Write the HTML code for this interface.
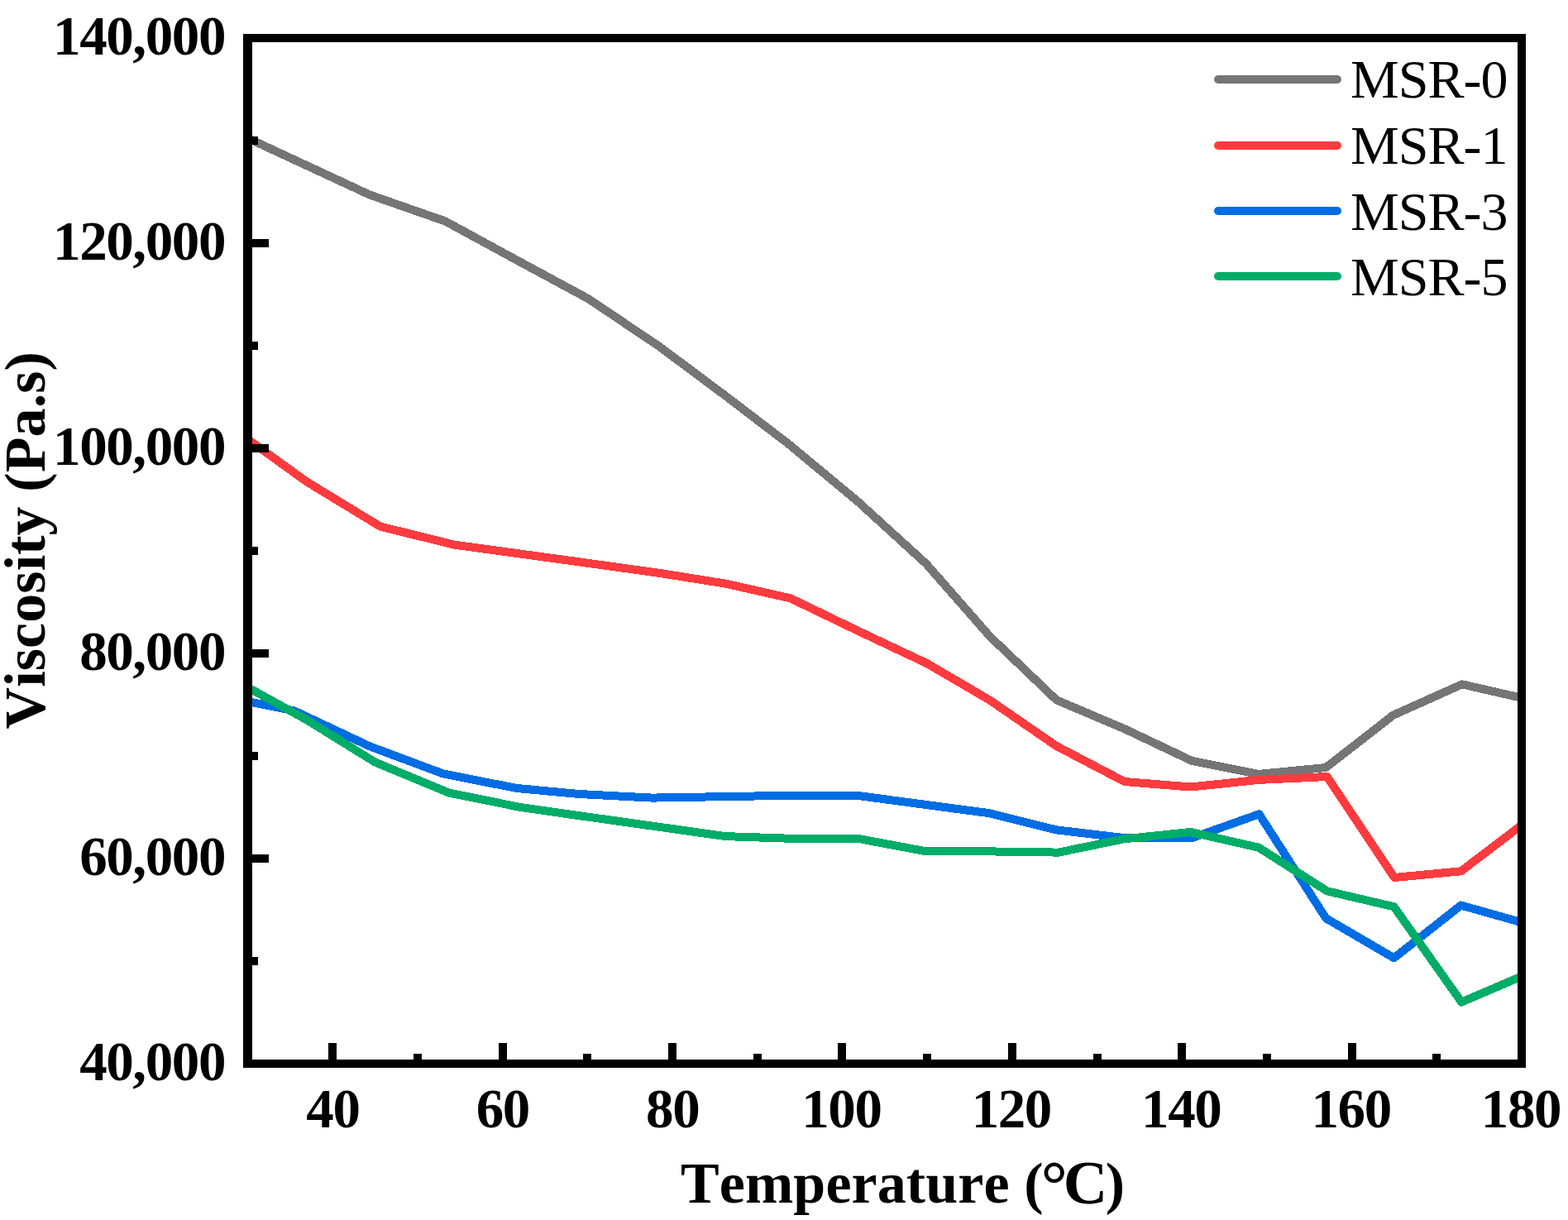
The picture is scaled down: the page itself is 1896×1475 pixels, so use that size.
<!DOCTYPE html>
<html lang="en"><head><meta charset="utf-8"><title>Viscosity vs Temperature</title>
<style>
html,body{margin:0;padding:0;background:#fff;}
body{width:1896px;height:1475px;overflow:hidden;}
svg{display:block;}
text{font-family:"Liberation Serif","Noto Serif CJK SC",serif;fill:#000;}
.tk{font-weight:bold;font-size:67px;letter-spacing:-1.4px;}
.ttl{font-weight:bold;font-size:70px;letter-spacing:0.1px;font-kerning:none;}
.lg{font-weight:normal;font-size:66px;letter-spacing:-1px;}
.deg{font-weight:bold;font-size:80px;}
.cc{font-weight:bold;font-size:74px;}
</style></head><body>
<svg width="1896" height="1475" viewBox="0 0 1896 1475">
<rect x="0" y="0" width="1896" height="1475" fill="#ffffff"/>
<defs><clipPath id="plot"><rect x="299.5" y="46" width="1540.5" height="1240"/></clipPath></defs>
<g clip-path="url(#plot)" shape-rendering="crispEdges">
<polyline fill="none" stroke="#757575" stroke-width="10" stroke-linejoin="round" stroke-linecap="butt" points="299.5,167.0 447.0,235.5 538.5,267.5 624.0,314.0 711.0,361.0 796.0,418.0 877.2,478.5 953.2,536.5 1038.0,607.0 1120.3,682.0 1196.5,769.0 1277.5,846.3 1361.0,881.8 1441.5,920.0 1521.5,936.0 1603.3,928.0 1684.4,864.8 1767.9,827.3 1840.0,843.8"/>
<polyline fill="none" stroke="#FF3B3F" stroke-width="10" stroke-linejoin="round" stroke-linecap="butt" points="299.5,531.0 371.0,582.5 459.7,636.5 548.4,658.5 700.0,679.3 796.2,692.7 877.2,705.6 955.7,723.3 1038.0,763.0 1120.3,801.8 1196.5,846.3 1277.5,902.0 1359.7,945.0 1439.7,951.5 1522.0,942.9 1604.6,939.0 1686.0,1061.0 1766.6,1053.3 1840.0,997.5"/>
<polyline fill="none" stroke="#006DE4" stroke-width="10" stroke-linejoin="round" stroke-linecap="butt" points="299.5,848.0 356.0,859.5 447.0,902.3 535.7,935.4 624.3,952.9 700.0,960.0 788.6,964.6 953.2,961.8 1041.8,962.5 1120.0,973.0 1196.5,983.2 1277.5,1003.4 1358.5,1013.0 1441.5,1013.0 1522.5,984.3 1603.3,1110.2 1685.6,1158.2 1766.6,1094.5 1840.0,1115.2"/>
<polyline fill="none" stroke="#00AD68" stroke-width="10" stroke-linejoin="round" stroke-linecap="butt" points="299.5,831.0 371.2,870.5 453.5,921.5 543.3,958.7 629.4,976.0 700.0,986.1 877.2,1011.1 953.2,1013.7 1036.7,1013.7 1116.0,1028.6 1196.5,1029.4 1280.0,1030.6 1358.5,1014.4 1439.7,1006.0 1522.0,1024.7 1604.6,1077.3 1685.6,1096.3 1767.2,1211.5 1840.0,1180.4"/>
</g>
<g fill="#000" shape-rendering="crispEdges">
<rect x="397" y="1261" width="10" height="22"/>
<rect x="603" y="1261" width="10" height="22"/>
<rect x="808" y="1261" width="10" height="22"/>
<rect x="1013" y="1261" width="10" height="22"/>
<rect x="1219" y="1261" width="10" height="22"/>
<rect x="1424" y="1261" width="10" height="22"/>
<rect x="1630" y="1261" width="10" height="22"/>
<rect x="1835" y="1261" width="10" height="22"/>
<rect x="500" y="1274" width="10" height="9"/>
<rect x="705" y="1274" width="10" height="9"/>
<rect x="911" y="1274" width="10" height="9"/>
<rect x="1116" y="1274" width="10" height="9"/>
<rect x="1322" y="1274" width="10" height="9"/>
<rect x="1527" y="1274" width="10" height="9"/>
<rect x="1732" y="1274" width="10" height="9"/>
<rect x="303" y="1033" width="22" height="10"/>
<rect x="303" y="785" width="22" height="10"/>
<rect x="303" y="537" width="22" height="10"/>
<rect x="303" y="289" width="22" height="10"/>
<rect x="303" y="1157" width="9" height="10"/>
<rect x="303" y="909" width="9" height="10"/>
<rect x="303" y="661" width="9" height="10"/>
<rect x="303" y="413" width="9" height="10"/>
<rect x="303" y="165" width="9" height="10"/>
<rect x="294" y="41" width="11" height="1250"/>
<rect x="294" y="41" width="1551" height="10"/>
<rect x="1835" y="41" width="10" height="1250"/>
<rect x="294" y="1281" width="1551" height="10"/>
</g>
<g class="tk" text-anchor="middle">
<text x="402.4" y="1363.3">40</text>
<text x="607.8" y="1363.3">60</text>
<text x="813.2" y="1363.3">80</text>
<text x="1017.4" y="1363.3">100</text>
<text x="1222.8" y="1363.3">120</text>
<text x="1428.2" y="1363.3">140</text>
<text x="1633.6" y="1363.3">160</text>
<text x="1839.0" y="1363.3">180</text>
</g>
<g class="tk" text-anchor="end">
<text x="272" y="1306.3">40,000</text>
<text x="272" y="1058.3">60,000</text>
<text x="272" y="810.3">80,000</text>
<text x="272" y="562.3">100,000</text>
<text x="272" y="314.3">120,000</text>
<text x="272" y="66.3">140,000</text>
</g>
<text class="ttl" x="823" y="1454">Temperature <tspan dx="0">(</tspan><tspan class="deg" dx="-3" dy="5">°</tspan><tspan class="cc" dx="-5" dy="-4.5">C</tspan><tspan dx="-2.5" dy="-0.5">)</tspan></text>
<text class="ttl" transform="translate(54,881.5) rotate(-90)">Viscosity (Pa.s)</text>
<line x1="1473" y1="96" x2="1617" y2="96" stroke="#757575" stroke-width="10" stroke-linecap="round"/>
<text class="lg" x="1633" y="118">MSR-0</text>
<line x1="1473" y1="176" x2="1617" y2="176" stroke="#FF3B3F" stroke-width="10" stroke-linecap="round"/>
<text class="lg" x="1633" y="198">MSR-1</text>
<line x1="1473" y1="255" x2="1617" y2="255" stroke="#006DE4" stroke-width="10" stroke-linecap="round"/>
<text class="lg" x="1633" y="277.6">MSR-3</text>
<line x1="1473" y1="334" x2="1617" y2="334" stroke="#00AD68" stroke-width="10" stroke-linecap="round"/>
<text class="lg" x="1633" y="356.6">MSR-5</text>
</svg>
</body></html>
